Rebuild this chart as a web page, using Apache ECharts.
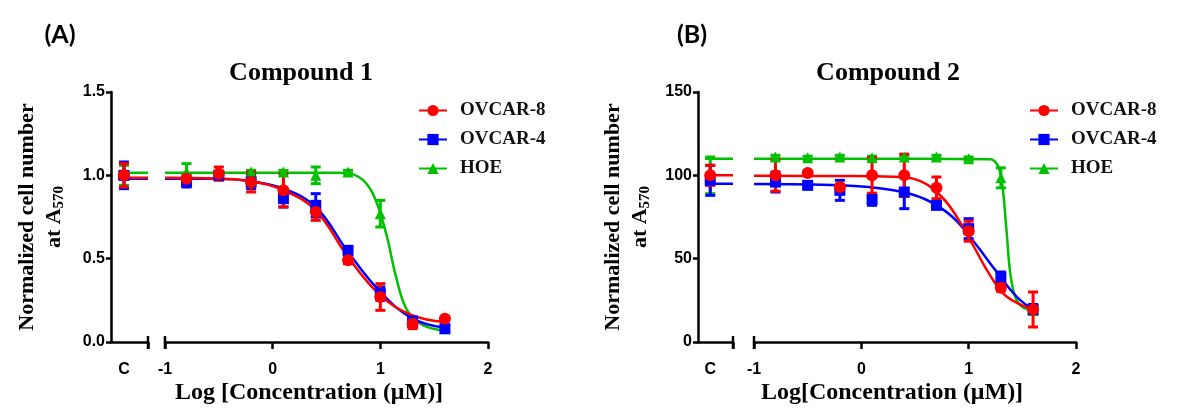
<!DOCTYPE html>
<html>
<head>
<meta charset="utf-8">
<script src="https://cdn.jsdelivr.net/npm/echarts@6/dist/echarts.min.js"></script>
<style>
html, body { margin: 0; padding: 0; background: #fff; }
#main { width: 1177px; height: 408px; }
</style>
</head>
<body>
<div id="main"></div>
<script>
// dose points, log10 (uM)
var conc = [-0.8, -0.5, -0.2, 0.1, 0.4, 0.7, 1.0, 1.3, 1.6];
var cPos = 0.35;          // where the control sits on the small C axis
var cSpan = [0.2, 1.0];   // plateau segment drawn over the C axis
var names = ['OVCAR-8', 'OVCAR-4', 'HOE'];
var colors = ['#ff0000', '#0000ff', '#00c000'];
var symbols = ['circle', 'rect', 'triangle'];

// ---- panel A, compound 1 (fraction) ----
var aMean = [
    [0.98, 1.01, 0.96, 0.91, 0.78, 0.49, 0.27, 0.11, 0.14],
    [0.96, 1.00, 0.96, 0.86, 0.82, 0.55, 0.29, 0.12, 0.08],
    [1.02, 1.01, 1.02, 1.02, 1.00, 1.02, 0.77, 0.12, 0.08]
];
var aErr = [
    [0.02, 0.04, 0.06, 0.10, 0.05, 0.02, 0.08, 0.03, 0.01],
    [0.03, 0.02, 0.04, 0.05, 0.07, 0.02, 0.04, 0.03, 0.02],
    [0.05, 0.01, 0.01, 0.01, 0.05, 0.01, 0.08, 0.01, 0.01]
];
var aCMean = [1.00, 1.00, 1.00];
var aCErr = [0.07, 0.08, 0.06];
var aTop = [0.985, 0.98, 1.015];
// fitted curves
var aCurveX = [
    [-1, -0.5, -0.2, 0.1, 0.4, 0.7, 1.0, 1.3, 1.6],
    [-1, -0.5, -0.2, 0.1, 0.4, 0.7, 1.0, 1.3, 1.6],
    [-1, 0.6, 0.8, 0.93, 1.05, 1.15, 1.25, 1.4, 1.6]
];
var aCurveY = [
    [0.985, 0.98, 0.965, 0.91, 0.79, 0.51, 0.28, 0.16, 0.12],
    [0.98, 0.98, 0.965, 0.92, 0.81, 0.54, 0.30, 0.14, 0.085],
    [1.015, 1.015, 0.99, 0.89, 0.66, 0.38, 0.19, 0.10, 0.07]
];

// ---- panel B, compound 2 (percent) ----
var bMean = [
    [100, 101.4, 93, 100, 100, 92.5, 66.5, 32.5, 19.5],
    [96, 94, 91, 85.5, 90, 82, 68, 39, 19.5],
    [111, 110.5, 111, 110.5, 111, 111, 110, 98.5, 19]
];
var bErr = [
    [9.5, 1, 1.5, 10.7, 12.7, 6.5, 6, 2, 10.5],
    [6, 2, 6, 3.5, 10, 2, 6, 3, 3],
    [1, 1, 1, 1, 1, 1, 1, 6, 1]
];
var bCMean = [100, 97, 100];
var bCErr = [6, 9, 11];
var bTop = [100, 95, 110];
var bCurveX = [
    [-1, -0.2, 0.3, 0.55, 0.75, 0.9, 1.05, 1.2, 1.35, 1.6],
    [-1, -0.2, 0.3, 0.6, 0.85, 1.05, 1.25, 1.45, 1.6],
    [-1, 1.2, 1.27, 1.31, 1.35, 1.39, 1.44, 1.5, 1.6]
];
var bCurveY = [
    [99.7, 99.6, 99.2, 96.5, 87, 74, 57, 40, 27.5, 19.5],
    [94.8, 94, 91, 85.5, 75, 60, 43, 27, 19.5],
    [110, 109.7, 106, 96, 69, 40, 26, 21, 19]
];

var serif = "'Liberation Serif', 'Times New Roman', serif";
var sans = "'Liberation Sans', Arial, sans-serif";

function zip(xs, ys) {
    return xs.map(function (x, i) { return [x, ys[i]]; });
}

function errBar(color) {
    return function (params, api) {
        var x = api.value(0);
        var a = api.coord([x, api.value(2)]);
        var b = api.coord([x, api.value(1)]);
        var w = 5;
        var st = { stroke: color, lineWidth: 3 };
        return {
            type: 'group',
            children: [
                { type: 'line', shape: { x1: a[0], y1: a[1], x2: b[0], y2: b[1] }, style: st },
                { type: 'line', shape: { x1: a[0] - w, y1: a[1], x2: a[0] + w, y2: a[1] }, style: st },
                { type: 'line', shape: { x1: b[0] - w, y1: b[1], x2: b[0] + w, y2: b[1] }, style: st }
            ]
        };
    };
}

function panelSeries(ci, mi, mean, err, cMean, cErr, top, cx, cy) {
    var out = [];
    // curves first (legend icon comes from these), green under blue under red
    [2, 1, 0].forEach(function (k) {
        out.push({
            name: names[k], type: 'line', xAxisIndex: mi, yAxisIndex: mi,
            data: zip(cx[k], cy[k]), smooth: 0.4,
            showSymbol: false, symbol: symbols[k], symbolSize: 12,
            lineStyle: { color: colors[k], width: 2.5 }, itemStyle: { color: colors[k] },
            silent: true, animation: false, z: 2
        });
        out.push({
            name: names[k] + ' c', type: 'line', xAxisIndex: ci, yAxisIndex: ci,
            data: [[cSpan[0], top[k]], [cSpan[1], top[k]]],
            showSymbol: false, lineStyle: { color: colors[k], width: 2.5 },
            silent: true, animation: false, z: 2
        });
    });
    [2, 1, 0].forEach(function (k) {
        out.push({
            name: names[k] + ' err', type: 'custom', xAxisIndex: mi, yAxisIndex: mi,
            renderItem: errBar(colors[k]),
            data: conc.map(function (x, i) { return [x, mean[k][i] - err[k][i], mean[k][i] + err[k][i]]; }),
            encode: { x: 0, y: [1, 2] }, silent: true, animation: false, z: 3
        });
        out.push({
            name: names[k] + ' cerr', type: 'custom', xAxisIndex: ci, yAxisIndex: ci,
            renderItem: errBar(colors[k]),
            data: [[cPos, cMean[k] - cErr[k], cMean[k] + cErr[k]]],
            encode: { x: 0, y: [1, 2] }, silent: true, animation: false, z: 3
        });
        out.push({
            name: names[k] + ' pts', type: 'scatter', xAxisIndex: mi, yAxisIndex: mi,
            data: zip(conc, mean[k]), symbol: symbols[k], symbolSize: k === 0 ? 12 : 11,
            itemStyle: { color: colors[k], opacity: 1 }, silent: true, animation: false, z: 4
        });
        out.push({
            name: names[k] + ' cpts', type: 'scatter', xAxisIndex: ci, yAxisIndex: ci,
            data: [[cPos, cMean[k]]], symbol: symbols[k], symbolSize: k === 0 ? 12 : 11,
            itemStyle: { color: colors[k], opacity: 1 }, silent: true, animation: false, z: 4
        });
    });
    return out;
}

var axisLine = { show: true, lineStyle: { color: '#000', width: 2.5 } };
var tickStyle = { color: '#000', width: 2.5 };
var tickLabel = { color: '#000', fontFamily: sans, fontWeight: 'bold', fontSize: 16 };

function cXAxis(grid) {
    return {
        gridIndex: grid, type: 'value', min: 0, max: 1,
        axisLine: axisLine, splitLine: { show: false },
        axisTick: { show: true, customValues: [1], length: 7, lineStyle: tickStyle },
        axisLabel: Object.assign({ customValues: [cPos], margin: 20, formatter: function () { return 'C'; } }, tickLabel)
    };
}
function mXAxis(grid) {
    return {
        gridIndex: grid, type: 'value', min: -1, max: 2, interval: 1,
        axisLine: axisLine, splitLine: { show: false },
        axisTick: { show: true, length: 7, lineStyle: tickStyle },
        axisLabel: Object.assign({ margin: 20 }, tickLabel)
    };
}
function yAxisOf(grid, max, step, shown, digits) {
    return {
        gridIndex: grid, type: 'value', min: 0, max: max, interval: step, show: shown,
        axisLine: axisLine, splitLine: { show: false },
        axisTick: { show: true, length: 5, lineStyle: tickStyle },
        axisLabel: Object.assign({ margin: 6, formatter: function (v) { return v.toFixed(digits); } }, tickLabel)
    };
}

var legendText = { fontFamily: serif, fontWeight: 'bold', fontSize: 19, color: '#111', padding: [0, 0, 0, 8] };

var option = {
    animation: false,
    backgroundColor: '#fff',
    grid: [
        { left: 111, top: 92, width: 37, height: 250 },
        { left: 165, top: 92, width: 323, height: 250 },
        { left: 698, top: 92, width: 35, height: 250 },
        { left: 754, top: 92, width: 322, height: 250 }
    ],
    xAxis: [cXAxis(0), mXAxis(1), cXAxis(2), mXAxis(3)],
    yAxis: [
        yAxisOf(0, 1.5, 0.5, true, 1),
        yAxisOf(1, 1.5, 0.5, false, 1),
        yAxisOf(2, 150, 50, true, 0),
        yAxisOf(3, 150, 50, false, 0)
    ],
    legend: [
        { left: 413, top: 96, orient: 'vertical', itemWidth: 28, itemHeight: 14, itemGap: 10,
          data: names, textStyle: legendText, selectedMode: false },
        { left: 1024, top: 96, orient: 'vertical', itemWidth: 28, itemHeight: 14, itemGap: 10,
          data: names, textStyle: legendText, selectedMode: false }
    ],
    series: panelSeries(0, 1, aMean, aErr, aCMean, aCErr, aTop, aCurveX, aCurveY)
        .concat(panelSeries(2, 3, bMean, bErr, bCMean, bCErr, bTop, bCurveX, bCurveY))
};

var chart = echarts.init(document.getElementById('main'));
chart.setOption(option);

// text furniture + the little axis-break bars
function label(text, x, y, font) {
    return { type: 'text', x: x, y: y, silent: true,
        style: { text: text, font: font, fill: '#000', align: 'center', verticalAlign: 'middle' } };
}
function yName(x, y) {
    return {
        type: 'text', x: x, y: y, rotation: Math.PI / 2, silent: true,
        style: {
            text: '{n|Normalized cell number}\n{n|at A}{s|570}',
            align: 'center', verticalAlign: 'middle', fill: '#000',
            rich: {
                n: { fontFamily: serif, fontWeight: 'bold', fontSize: 22, lineHeight: 27 },
                s: { fontFamily: serif, fontWeight: 'bold', fontSize: 15, lineHeight: 27, padding: [10, 0, 0, 0] }
            }
        }
    };
}
function breakBar(xi, xv) {
    var p = chart.convertToPixel({ xAxisIndex: xi, yAxisIndex: xi }, [xv, 0]);
    return { type: 'line', silent: true, shape: { x1: p[0], y1: p[1] - 6, x2: p[0], y2: p[1] + 7 },
        style: { stroke: '#000', lineWidth: 2.5 } };
}

chart.setOption({
    graphic: [
        label('(A)', 60, 35, "bold 25px Lato, 'Open Sans', sans-serif"),
        label('(B)', 692, 35, "bold 25px Lato, 'Open Sans', sans-serif"),
        label('Compound 1', 301, 73, 'bold 26px ' + serif),
        label('Compound 2', 888, 73, 'bold 26px ' + serif),
        label('Log [Concentration (\u03bcM)]', 309, 393, 'bold 24px ' + serif),
        label('Log[Concentration (\u03bcM)]', 892, 393, 'bold 24px ' + serif),
        yName(41, 217),
        yName(627, 217),
        breakBar(0, 1), breakBar(1, -1), breakBar(2, 1), breakBar(3, -1)
    ]
});
</script>
</body>
</html>
